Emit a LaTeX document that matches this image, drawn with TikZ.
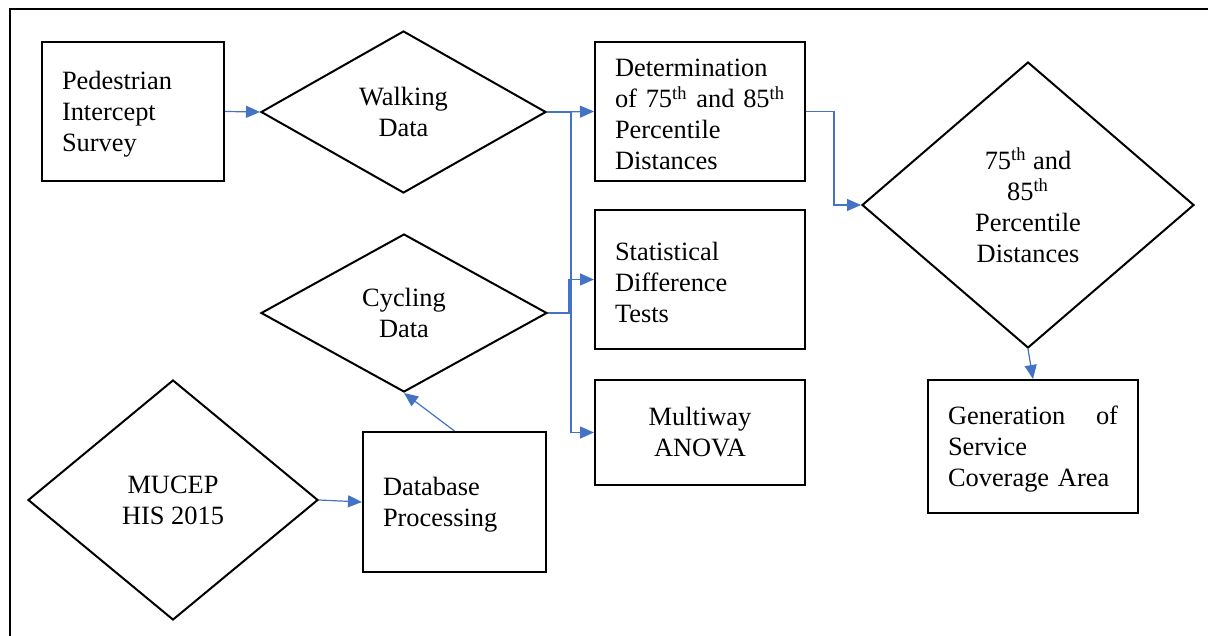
\documentclass[tikz,border=0pt]{standalone}
\usepackage{fontspec}
\setmainfont{Liberation Serif}
\usetikzlibrary{shapes.geometric,arrows.meta}

\begin{document}
\begin{tikzpicture}[x=0.5pt,y=-0.5pt,
  every node/.style={font=\fontsize{13.2}{15.5}\selectfont},
  procbox/.style={draw,line width=1pt,inner sep=0pt,minimum width=#1,
    execute at begin node={\rule{0pt}{12pt}}},
  decision/.style={draw,diamond,line width=1pt,inner sep=0pt,align=center},
  conn/.style={draw={rgb,255:red,68;green,114;blue,196},line width=0.6pt,
    -{Triangle[length=7pt,width=6pt]}}]
\useasboundingbox (0,0) rectangle (1208,636);
\draw[line width=1pt] (10,636) -- (10,9) -- (1208,9);
\node[procbox=91pt,minimum height=69.5pt,text width=71pt,align=left] (ped) at (133,111.5)
  {Pedestrian\\Intercept\\Survey};
\node[decision,minimum width=142.5pt,minimum height=81pt] (walk) at (403.5,112) {Walking\\Data};
\node[procbox=105pt,minimum height=69.5pt,text width=85pt,align=left] (det) at (700,111.5)
  {Determination\\\mbox{of 75\textsuperscript{th} and 85\textsuperscript{th}}\\Percentile\\Distances};
\node[procbox=105pt,minimum height=69.5pt,text width=85pt,align=left] (stat) at (700,279.5)
  {Statistical\\Difference\\Tests};
\node[procbox=105pt,minimum height=52.5pt,align=center] (multi) at (700,432.5) {Multiway\\ANOVA};
\node[decision,minimum width=143pt,minimum height=79pt] (cyc) at (404,313) {Cycling\\Data};
\node[decision,minimum width=145pt,minimum height=120pt] (mucep) at (173,500) {MUCEP\\HIS 2015};
\node[procbox=91.5pt,minimum height=70pt,text width=71.5pt,align=left] (db) at (454.5,502)
  {Database\\Processing};
\node[decision,minimum width=166pt,minimum height=143pt] (d75) at (1028,205)
  {75\textsuperscript{th} and\\85\textsuperscript{th}\\Percentile\\Distances};
\node[procbox=105pt,minimum height=66.5pt,text width=85pt,align=left] (gen) at (1033,446.5)
  {Generation \hfill of\\Service\\Coverage Area};
\draw[conn] (ped.east) -- (walk.west);
\draw[conn] (walk.east) -- (det.west);
\draw[conn] (walk.east) -- ++(24,0) |- (multi.west);
\draw[conn] (cyc.east) -- ++(21,0) |- (stat.west);
\draw[conn] (det.east) -- ++(28,0) |- (d75.west);
\draw[conn] (d75.south) -- (gen.north);
\draw[conn] (db.north) -- (cyc.south);
\draw[conn] (mucep.east) -- (db.west);
\end{tikzpicture}
\end{document}
